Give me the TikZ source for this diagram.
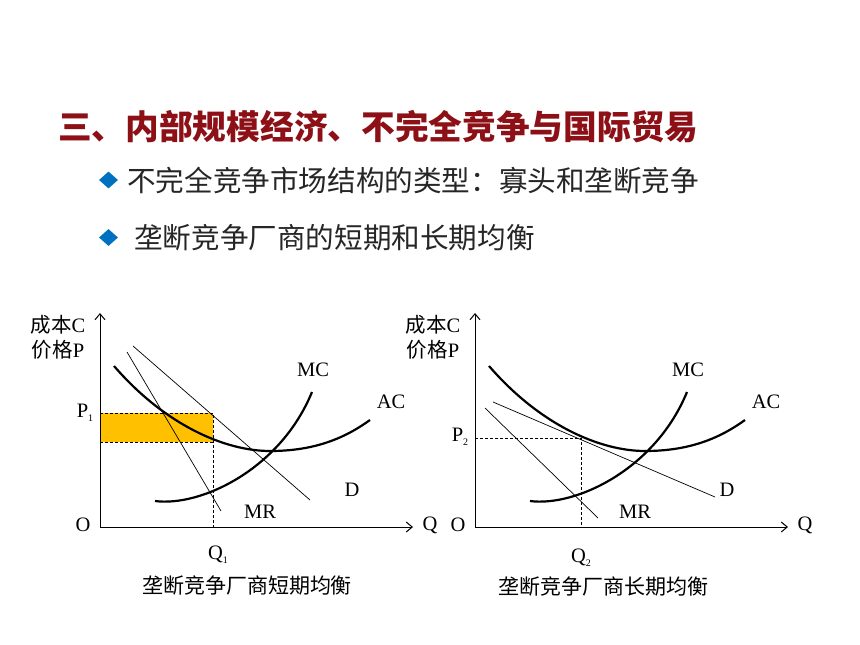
\documentclass[tikz,border=0pt]{standalone}
\usepackage{fontspec}
\setmainfont{Liberation Serif}
\newfontfamily\cjk{Noto Sans CJK SC}
\usetikzlibrary{arrows.meta,shapes.geometric}
\definecolor{ttlred}{RGB}{140,16,22}
\definecolor{bulblue}{RGB}{0,112,192}
\definecolor{shadeor}{RGB}{255,192,0}
\newcommand{\lsub}[1]{\raisebox{-4pt}{\fontsize{10}{10}\selectfont #1}}

\tikzset{
  costcurve/.style={line width=2.2pt},
  thinline/.style={line width=0.7pt},
  axisline/.style={line width=1pt,-{Straight Barb[length=6pt,width=10pt]}},
  guide/.style={line width=0.7pt,dash pattern=on 3pt off 2pt},
  lab/.style={font=\fontsize{20.5}{22}\selectfont,inner sep=0pt},
  captext/.style={font=\cjk\fontsize{21}{24}\selectfont,inner sep=0pt},
  bullet/.style={diamond,fill=bulblue,minimum width=19pt,minimum height=17pt,inner sep=0pt},
  item/.style={font=\cjk\fontsize{28.6}{32}\selectfont,anchor=west,inner sep=0pt,text=black!85},
}

\begin{document}
\begin{tikzpicture}[x=1pt,y=-1pt]
  \useasboundingbox[fill=white] (0,0) rectangle (860,645);
  % heading and bullets
  \node[font=\cjk\bfseries\fontsize{33.7}{36}\selectfont,text=ttlred,anchor=west,inner sep=0pt]
    (title) at (58,127) {三、内部规模经济、不完全竞争与国际贸易};
  \node[bullet] (b1) at (108.5,180) {};
  \node[item] (t1) at (127,181) {不完全竞争市场结构的类型：寡头和垄断竞争};
  \node[bullet] (b2) at (108.5,237.5) {};
  \node[item] (t2) at (134,238) {垄断竞争厂商的短期和长期均衡};

  % short run: shaded profit rectangle
  \fill[shadeor] (100,413) rectangle (213,442);
  \coordinate (p1) at (100,413);
  \coordinate (c1) at (100,442);
  \coordinate (e1) at (213,413);
  \coordinate (f1) at (213,442);
  \coordinate (q1) at (213,527);
  \draw[guide] (p1) -- (e1) -- (q1);
  \draw[guide] (c1) -- (f1);
  % long run: tangency point
  \coordinate (p2) at (475,438);
  \coordinate (e2) at (581,438);
  \coordinate (q2) at (581,527);
  \draw[guide] (p2) -- (e2) -- (q2);

  % both panels: axes, AC and MC
  \foreach \i/\dx in {1/0, 2/375}
  {
    \begin{scope}[xshift=\dx pt]
      \coordinate (o\i) at (100,527);
      \coordinate (ytop\i) at (100,313);
      \coordinate (xend\i) at (413,527);
      \draw[axisline] (o\i) -- (ytop\i);
      \draw[axisline] (o\i) -- (xend\i);
      \draw[costcurve] (114,366) .. controls (165,425) and (225,451) .. (270,451)
        .. controls (315,451) and (345,438) .. (370,420);
      \draw[costcurve] (155,501) .. controls (200,507) and (280,470) .. (312,392);
      \node[lab] (mc\i) at (313,370) {MC};
      \node[lab] (ac\i) at (391,402) {AC};
      \node[lab] (d\i) at (352,490) {D};
      \node[lab] (mr\i) at (260,512) {MR};
      \node[lab] (ol\i) at (83,525) {O};
      \node[lab] (ql\i) at (430,525) {Q};
      \node[lab] (cost\i) at (58,325) {{\cjk 成本}C};
      \node[lab] (price\i) at (58,350) {{\cjk 价格}P};
    \end{scope}
  }

  % demand and marginal revenue
  \coordinate (da1) at (133,346);
  \coordinate (db1) at (310,500);
  \coordinate (ma1) at (127,352);
  \coordinate (mb1) at (221,511);
  \draw[thinline] (da1) -- (db1);
  \draw[thinline] (ma1) -- (mb1);
  \coordinate (da2) at (493,402);
  \coordinate (db2) at (715,497);
  \coordinate (ma2) at (485,408);
  \coordinate (mb2) at (598,518);
  \draw[thinline] (da2) -- (db2);
  \draw[thinline] (ma2) -- (mb2);

  % panel labels
  \node[lab] (pl1) at (85,413) {P\lsub{1}};
  \node[lab] (pl2) at (460,437) {P\lsub{2}};
  \node[lab] (qs1) at (218,555) {Q\lsub{1}};
  \node[lab] (qs2) at (581,558) {Q\lsub{2}};
  \node[captext] (cap1) at (247,586) {垄断竞争厂商短期均衡};
  \node[captext] (cap2) at (603,587) {垄断竞争厂商长期均衡};
\end{tikzpicture}
\end{document}
